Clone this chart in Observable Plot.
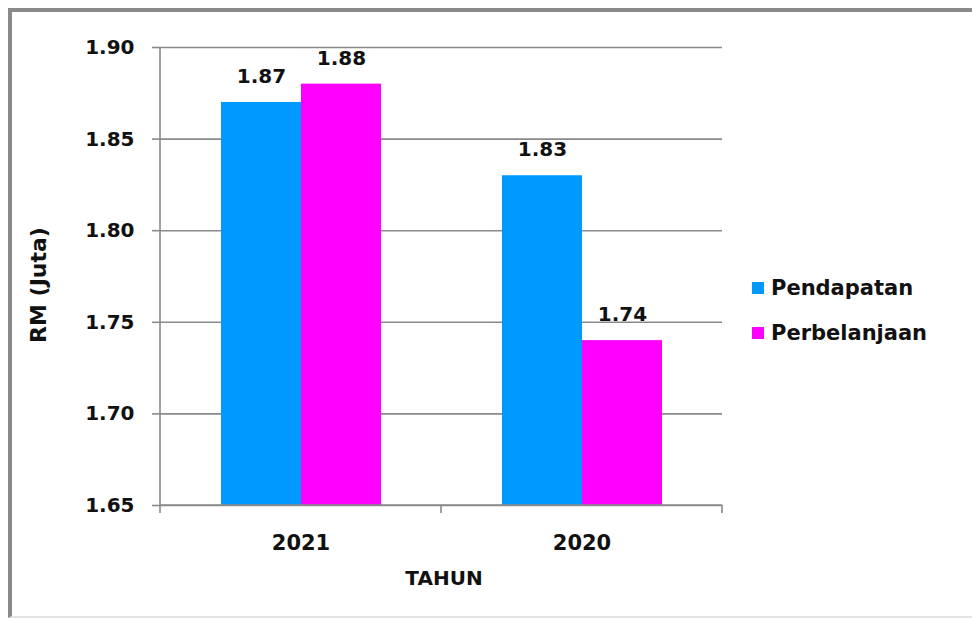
<!DOCTYPE html>
<html><head><meta charset="utf-8">
<script src="https://cdn.jsdelivr.net/npm/d3@7"></script>
<script src="https://cdn.jsdelivr.net/npm/@observablehq/plot@0.6"></script>
<style>
body{margin:0;background:#fff;}
#wrap{position:relative;width:972px;height:618px;overflow:hidden;font-family:"DejaVu Sans",sans-serif;background:#fff;}
#border{position:absolute;left:8px;top:8px;width:980px;height:604px;border-left:4px solid #8a8a8a;border-top:4px solid #8a8a8a;border-bottom:2px solid #e4e4e4;pointer-events:none;}
#chart{position:absolute;left:0;top:0;}
.ttl{position:absolute;font-weight:700;color:#111;white-space:nowrap;}
#ytitle{left:38px;top:285px;font-size:22px;transform:translate(-50%,-50%) rotate(-90deg);}
#xtitle{left:444px;top:578px;font-size:20px;transform:translate(-50%,-50%);}
#legend{position:absolute;left:752px;top:272px;font-size:21px;font-weight:700;color:#111;}
.li{display:flex;align-items:center;height:32px;margin-bottom:13px;}
.sw{width:12px;height:12px;margin-right:7px;}
</style>
</head><body>
<div id="wrap">
  <div id="chart"></div>
  <div id="border"></div>
  <div class="ttl" id="ytitle">RM (Juta)</div>
  <div class="ttl" id="xtitle">TAHUN</div>
  <div id="legend"></div>
</div>
<script>
const years = ["2021", "2020"];
const series = ["Pendapatan", "Perbelanjaan"];
const pendapatan = [1.87, 1.83];
const perbelanjaan = [1.88, 1.74];
const yTicks = [1.65, 1.70, 1.75, 1.80, 1.85, 1.90];
const colors = ["#0099ff", "#ff00ff"];

const rows = years.flatMap((yr, i) => [
  {year: yr, series: series[0], value: pendapatan[i]},
  {year: yr, series: series[1], value: perbelanjaan[i]}
]);
const base = yTicks[0];
const gray = "#8a8a8a";

const chart = Plot.plot({
  width: 972, height: 618,
  marginLeft: 160, marginRight: 250, marginTop: 47, marginBottom: 113,
  style: {fontFamily: "'DejaVu Sans', sans-serif", color: "#111", background: "transparent"},
  fx: {domain: years, padding: 0, label: null},
  x: {domain: series, paddingInner: 0, paddingOuter: 0.745, axis: null},
  y: {domain: [yTicks[0], yTicks[yTicks.length - 1]], label: null},
  color: {domain: series, range: colors},
  marks: [
    Plot.gridY(yTicks, {stroke: gray, strokeOpacity: 1, strokeWidth: 1.6}),
    Plot.barY(rows, {fx: "year", x: "series", y1: () => base, y2: "value", fill: "series"}),
    Plot.text(rows, {fx: "year", x: "series", y: "value", text: d => d.value.toFixed(2),
      dy: -26, fontSize: 20, fontWeight: 700, fill: "#111"}),
    Plot.axisY(yTicks, {tickSize: 8, tickPadding: 18, fontSize: 20, fontWeight: 700,
      tickFormat: d3.format(".2f"), stroke: gray, strokeWidth: 1.6, label: null}),
    Plot.axisFx({anchor: "bottom", tickSize: 0, tickPadding: 30, fontSize: 21, fontWeight: 700, label: null})
  ]
});
document.getElementById("chart").appendChild(chart);

// axis lines and boundary ticks, placed with the plot's own scales
const svg = d3.select(chart.tagName.toLowerCase() === "svg" ? chart : chart.querySelector("svg"));
const ys = chart.scale("y");
const fxs = chart.scale("fx");
const y0 = ys.apply(yTicks[0]), y1 = ys.apply(yTicks[yTicks.length - 1]);
const lefts = years.map(v => fxs.apply(v));
const xl = Math.min(...lefts), xr = Math.max(...lefts) + fxs.bandwidth;
const bounds = [...lefts, xr];
const g = svg.append("g").attr("stroke", gray).attr("stroke-width", 1.6);
g.append("line").attr("x1", xl).attr("x2", xl).attr("y1", y1).attr("y2", y0);
g.append("line").attr("x1", xl).attr("x2", xr).attr("y1", y0).attr("y2", y0);
bounds.forEach(b => g.append("line").attr("x1", b).attr("x2", b).attr("y1", y0).attr("y2", y0 + 8));

const legend = d3.select("#legend");
series.forEach((s, i) => {
  const item = legend.append("div").attr("class", "li");
  item.append("div").attr("class", "sw").style("background", colors[i]);
  item.append("span").text(s);
});
</script>
</body></html>
